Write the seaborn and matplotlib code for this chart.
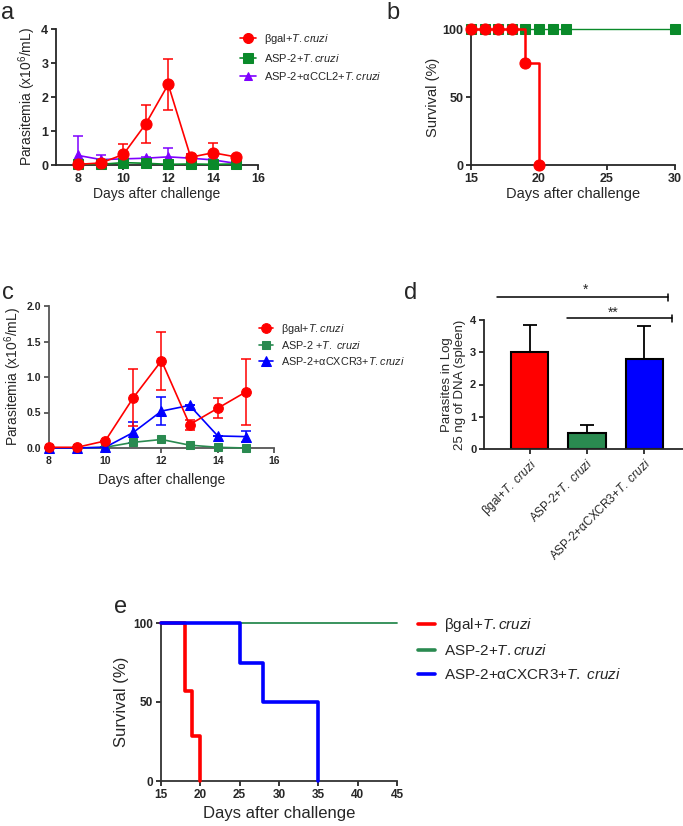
import matplotlib
matplotlib.use("Agg")
import matplotlib.pyplot as plt
import seaborn as sns

# colours
RED = "#ff0000"
GREEN = "#0a8a2a"
GREEN2 = "#2a8a50"
PURPLE = "#7f00ff"
BLUE = "#0000ff"

# panel a : parasitemia (aCCL2)
days_a = [8, 9, 10, 11, 12, 13, 14, 15]
bgal_a = [0.02, 0.06, 0.31, 1.21, 2.37, 0.23, 0.36, 0.24]
bgal_a_err = [0.0, 0.0, 0.32, 0.56, 0.74, 0.08, 0.28, 0.0]
asp2_a = [0.03, 0.02, 0.07, 0.05, 0.02, 0.03, 0.02, 0.03]
ccl2_a = [0.28, 0.16, 0.18, 0.20, 0.24, 0.20, 0.15, 0.05]
ccl2_a_err = [0.56, 0.14, 0.15, 0.05, 0.25, 0.12, 0.04, 0.0]

# panel b : survival
days_b_bgal = [15, 16, 17, 18, 19, 20]
surv_b_bgal = [100, 100, 100, 100, 75, 0]
days_b_asp2 = [15, 16, 17, 18, 19, 20, 21, 22, 30]
surv_b_asp2 = [100, 100, 100, 100, 100, 100, 100, 100, 100]

# panel c : parasitemia (aCXCR3)
days_c = [8, 9, 10, 11, 12, 13, 14, 15]
bgal_c = [0.01, 0.01, 0.10, 0.71, 1.23, 0.33, 0.56, 0.79]
bgal_c_err = [0.0, 0.0, 0.0, 0.40, 0.41, 0.07, 0.14, 0.47]
asp2_c = [0.0, 0.0, 0.01, 0.08, 0.12, 0.04, 0.01, 0.0]
cxcr3_c = [0.0, 0.0, 0.01, 0.22, 0.52, 0.60, 0.17, 0.16]
cxcr3_c_err = [0.0, 0.0, 0.0, 0.15, 0.20, 0.0, 0.0, 0.08]

# panel d : parasites in spleen
groups_d = [r"βgal+$\mathit{T.\ cruzi}$", r"ASP-2+$\mathit{T.\ cruzi}$",
            r"ASP-2+αCXCR3+$\mathit{T.\ cruzi}$"]
vals_d = [3.0, 0.5, 2.8]
err_d = [0.85, 0.25, 1.0]
# significance brackets: x start, x end, y, text, text x, text y
sig_d = [(-0.57, 2.42, 4.71, "*", 0.97, 4.93),
         (0.66, 2.48, 4.06, "**", 1.46, 4.22)]

# panel e : survival
days_e_bgal = [15, 18, 19, 20]
surv_e_bgal = [100, 57.1, 28.6, 0]
days_e_asp2 = [15, 45]
surv_e_asp2 = [100, 100]
days_e_cxcr3 = [15, 25, 28, 35]
surv_e_cxcr3 = [100, 75, 50, 0]

lab_bgal = r"βgal+$\mathit{T.cruzi}$"
lab_asp2 = r"ASP-2+$\mathit{T.cruzi}$"
lab_ccl2 = r"ASP-2+αCCL2+$\mathit{T.cruzi}$"
lab_asp2c = r"ASP-2 +$\mathit{T.\ cruzi}$"
lab_cxcr3 = r"ASP-2+αCXCR3+$\mathit{T.cruzi}$"
lab_cxcr3e = r"ASP-2+αCXCR3+$\mathit{T.\ cruzi}$"

sns.set_style("ticks")
plt.rcParams["font.family"] = ["Liberation Sans", "DejaVu Sans"]
plt.rcParams["mathtext.fontset"] = "custom"
plt.rcParams["mathtext.rm"] = "Liberation Sans"
plt.rcParams["mathtext.it"] = "Liberation Sans:italic"
plt.rcParams["mathtext.bf"] = "Liberation Sans:bold"
plt.rcParams["axes.linewidth"] = 1.3
plt.rcParams["xtick.major.width"] = 1.3
plt.rcParams["ytick.major.width"] = 1.3
plt.rcParams["xtick.major.size"] = 3.5
plt.rcParams["ytick.major.size"] = 3.5

fig = plt.figure(figsize=(6.83, 8.26), dpi=100)


def px_axes(l, t, r, b):
    W, H = 683.0, 826.0
    return fig.add_axes([l / W, 1 - b / H, (r - l) / W, (b - t) / H])


def style(ax, ticksize=8):
    sns.despine(ax=ax)
    for lab in ax.get_xticklabels() + ax.get_yticklabels():
        lab.set_fontweight("bold")
        lab.set_fontsize(ticksize)
    ax.tick_params(pad=2)


def line(ax, x, y, color, marker, ms, label, lw=1.2, z=3, **kw):
    sns.lineplot(x=x, y=y, ax=ax, color=color, marker=marker, markersize=ms,
                 markeredgecolor=color, linewidth=lw, label=label,
                 errorbar=None, clip_on=False, zorder=z, legend=False, **kw)


# ---- a
ax_a = px_axes(56, 29, 258, 165)
ax_a.errorbar(days_a, ccl2_a, yerr=ccl2_a_err, fmt="none", ecolor=PURPLE,
              elinewidth=1.1, capsize=3.5, capthick=1.1, zorder=2)
line(ax_a, days_a, ccl2_a, PURPLE, "^", 7, lab_ccl2, z=3)
line(ax_a, days_a, asp2_a, GREEN, "s", 7.5, lab_asp2, z=4)
ax_a.errorbar(days_a, bgal_a, yerr=bgal_a_err, fmt="none", ecolor=RED,
              elinewidth=1.1, capsize=3.5, capthick=1.1, zorder=2)
line(ax_a, days_a, bgal_a, RED, "o", 8, lab_bgal, z=5)
ax_a.set_xlim(7, 16)
ax_a.set_ylim(0, 4)
ax_a.set_xticks([8, 10, 12, 14, 16])
ax_a.set_yticks([0, 1, 2, 3, 4])
ax_a.set_xlabel("Days after challenge", fontsize=10, labelpad=2)
ax_a.set_ylabel(r"Parasitemia (x10$^6$/mL)", fontsize=10, labelpad=2)
style(ax_a, 9)
h, l = ax_a.get_legend_handles_labels()
order = [l.index(lab_bgal), l.index(lab_asp2), l.index(lab_ccl2)]
ax_a.legend([h[i] for i in order], [l[i] for i in order], loc="upper left",
            bbox_to_anchor=(240 / 683, 1 - 32 / 826), bbox_transform=fig.transFigure,
            frameon=False, fontsize=8, handlelength=1.4, handletextpad=0.8,
            labelspacing=0.55, borderpad=0, borderaxespad=0, markerscale=0.9)

# ---- b
ax_b = px_axes(471, 29, 675, 165)
line(ax_b, days_b_asp2, surv_b_asp2, GREEN, "s", 7.5, lab_asp2, lw=1.0, z=3)
line(ax_b, days_b_bgal, surv_b_bgal, RED, "o", 8, lab_bgal, lw=1.8, z=4,
     drawstyle="steps-post")
ax_b.set_xlim(15, 30)
ax_b.set_ylim(0, 100)
ax_b.set_xticks([15, 20, 25, 30])
ax_b.set_yticks([0, 50, 100])
ax_b.set_xlabel("Days after challenge", fontsize=10.5, labelpad=2)
ax_b.set_ylabel("Survival (%)", fontsize=10.5, labelpad=2)
style(ax_b, 9)

# ---- c
ax_c = px_axes(49, 306, 274, 448)
ax_c.errorbar(days_c, cxcr3_c, yerr=cxcr3_c_err, fmt="none", ecolor=BLUE,
              elinewidth=1.1, capsize=3.5, capthick=1.1, zorder=2)
ax_c.errorbar(days_c, bgal_c, yerr=bgal_c_err, fmt="none", ecolor=RED,
              elinewidth=1.1, capsize=3.5, capthick=1.1, zorder=2)
line(ax_c, days_c, asp2_c, GREEN2, "s", 6, lab_asp2c, z=3)
line(ax_c, days_c, cxcr3_c, BLUE, "^", 6.5, lab_cxcr3, z=4)
line(ax_c, days_c, bgal_c, RED, "o", 7, lab_bgal, z=5)
ax_c.set_xlim(8, 16)
ax_c.set_ylim(0, 2)
ax_c.set_xticks([8, 10, 12, 14, 16])
ax_c.set_yticks([0, 0.5, 1.0, 1.5, 2.0])
ax_c.set_yticklabels(["0.0", "0.5", "1.0", "1.5", "2.0"])
ax_c.set_xlabel("Days after challenge", fontsize=10, labelpad=5)
ax_c.set_ylabel(r"Parasitemia (x10$^6$/mL)", fontsize=10, labelpad=2)
for sp in ax_c.spines.values():
    sp.set_color("#555555")
ax_c.tick_params(color="#555555")
style(ax_c, 7.5)
h, l = ax_c.get_legend_handles_labels()
order = [l.index(lab_bgal), l.index(lab_asp2c), l.index(lab_cxcr3)]
ax_c.legend([h[i] for i in order], [l[i] for i in order], loc="upper left",
            bbox_to_anchor=(259 / 683, 1 - 322 / 826), bbox_transform=fig.transFigure,
            frameon=False, fontsize=7.8, handlelength=1.3, handletextpad=0.7,
            labelspacing=0.3, borderpad=0, borderaxespad=0)

# ---- d
ax_d = px_axes(484, 320, 683, 449)
sns.barplot(x=groups_d, y=vals_d, hue=groups_d, palette=[RED, GREEN2, BLUE],
            legend=False, ax=ax_d, width=0.65, edgecolor="black", linewidth=1.5,
            saturation=1)
ax_d.errorbar(range(len(vals_d)), vals_d, yerr=[[0] * len(vals_d), err_d],
              fmt="none", ecolor="black", elinewidth=1.3, capsize=5, capthick=1.3,
              zorder=1)
for x0, x1, yy, txt, tx, ty in sig_d:
    ax_d.plot([x0, x1], [yy, yy], color="black", lw=1.1, clip_on=False)
    ax_d.plot([x1, x1], [yy - 0.11, yy + 0.11], color="black", lw=1.1, clip_on=False)
    ax_d.text(tx, ty, txt, ha="center", va="center", fontsize=10)
ax_d.set_xlim(-0.8, 2.68)
ax_d.set_ylim(0, 4)
ax_d.set_yticks([0, 1, 2, 3, 4])
ax_d.set_ylabel("Parasites in Log\n25 ng of DNA (spleen)", fontsize=9.5, labelpad=3,
                linespacing=1.1)
ax_d.set_xlabel("")
style(ax_d, 8)
for lab in ax_d.get_xticklabels():
    lab.set_fontweight("normal")
    lab.set_fontsize(8.5)
    lab.set_rotation(45)
    lab.set_ha("right")
    lab.set_rotation_mode("anchor")

# ---- e
ax_e = px_axes(161, 623, 397, 781)
line(ax_e, days_e_asp2, surv_e_asp2, GREEN2, None, 0, lab_asp2, lw=1.3, z=3)
line(ax_e, days_e_bgal, surv_e_bgal, RED, None, 0, lab_bgal, lw=2.6, z=4,
     drawstyle="steps-post")
line(ax_e, days_e_cxcr3, surv_e_cxcr3, BLUE, None, 0, lab_cxcr3e, lw=2.6, z=4,
     drawstyle="steps-post")
ax_e.set_xlim(15, 45)
ax_e.set_ylim(0, 100)
ax_e.set_xticks([15, 20, 25, 30, 35, 40, 45])
ax_e.set_yticks([0, 50, 100])
ax_e.set_xlabel("Days after challenge", fontsize=12, labelpad=4)
ax_e.set_ylabel("Survival (%)", fontsize=12, labelpad=3)
for sp in ax_e.spines.values():
    sp.set_color("#333333")
style(ax_e, 8.5)
h, l = ax_e.get_legend_handles_labels()
order = [l.index(lab_bgal), l.index(lab_asp2), l.index(lab_cxcr3e)]
leg = ax_e.legend([h[i] for i in order], [l[i] for i in order], loc="upper left",
                  bbox_to_anchor=(418 / 683, 1 - 616 / 826),
                  bbox_transform=fig.transFigure, frameon=False, fontsize=11,
                  handlelength=1.1, handletextpad=0.6, labelspacing=0.6,
                  borderpad=0, borderaxespad=0)
for hl in leg.get_lines():
    hl.set_linewidth(2.6)

# panel letters
for txt, x, y in [("a", 1, 13), ("b", 386, 13), ("c", 2, 293), ("d", 404, 293),
                  ("e", 114, 607)]:
    fig.text(x / 683, 1 - y / 826, txt, fontsize=17, va="center", ha="left")

fig.savefig("out.png", dpi=100)
